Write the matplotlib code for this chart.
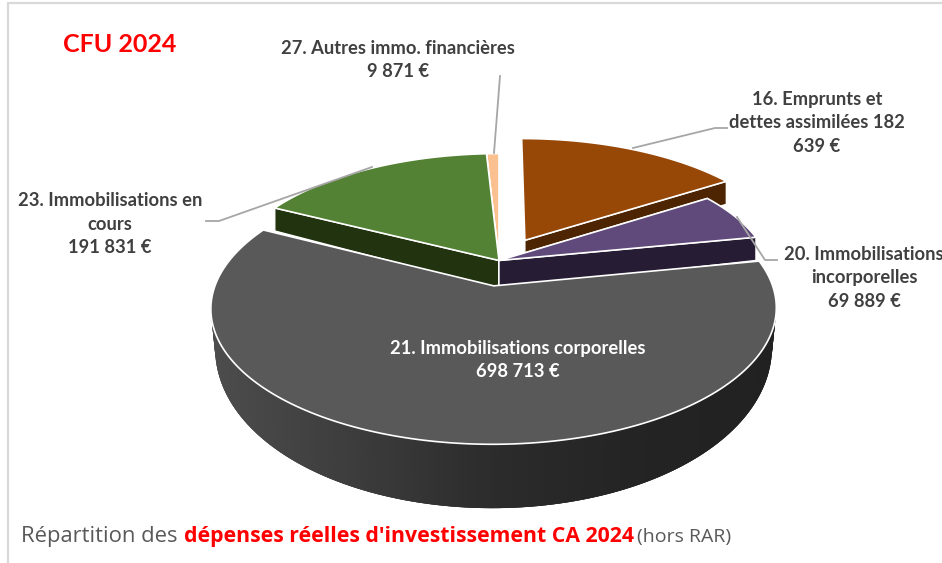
import numpy as np
import matplotlib
matplotlib.use("Agg")
import matplotlib.pyplot as plt
from matplotlib.patches import Polygon

# ── Données ───────────────────────────────────────────────────────────────────
POSTES = ["16. Emprunts et", "20. Immobilisations", "21. Immobilisations corporelles",
          "23. Immobilisations en", "27. Autres immo. financières"]
MONTANTS = [182639, 69889, 698713, 191831, 9871]

COULEURS_DESSUS = ["#974706", "#604a7b", "#595959", "#548235", "#fac090"]
COULEURS_COTE = ["#4d2503", "#261c33", "#333333", "#21330f", "#c09060"]
EXPLOSION = [0.19, 0.0, 0.20, 0.0, 0.0]
DECALAGE_X = [2, 0, 2.5, 0, 0]

# ── Géométrie de la perspective (pixels de l'image) ───────────────────────────
CX, CY = 499, 260
A, B, K = 270, 124, 0.16

plt.rcParams["font.family"] = ["Lato", "DejaVu Sans"]

fig = plt.figure(figsize=(9.42, 5.63), dpi=100)
ax = fig.add_axes([0, 0, 1, 1])
ax.set_xlim(0, 942)
ax.set_ylim(563, 0)
ax.axis("off")


def projette(u, v, dx=0):
    s = 1 / (1 - K * v)
    return CX + dx + A * u * s, CY + 0.5 + B * v * s


def epaisseur(v):
    return 23 + 41 * np.maximum(0, (v + 0.2) / 1.4)


def montant_txt(m):
    return f"{m:,}".replace(",", " ") + " €"


def part(deb, fin, expl):
    mid = np.radians((deb + fin) / 2)
    ou, ov = expl * np.sin(mid), -expl * np.cos(mid)
    th = np.radians(np.linspace(deb, fin, 160))
    return ou, ov, ou + np.sin(th), ov - np.cos(th)


def mur_radial(ou, ov, u, v, couleur, dx):
    x0, y0 = projette(ou, ov, dx)
    x1, y1 = projette(u, v, dx)
    pts = [(x0, y0), (x1, y1), (x1, y1 + epaisseur(v)), (x0, y0 + epaisseur(ov))]
    ax.add_patch(Polygon(pts, facecolor=couleur, edgecolor="white", linewidth=1))


# ── Parts du camembert ────────────────────────────────────────────────────────
parts = np.array(MONTANTS) / sum(MONTANTS) * 360
bornes = np.concatenate([[0], np.cumsum(parts)])

for i in [0, 4, 3, 1, 2]:
    deb, fin = bornes[i], bornes[i + 1]
    dx = DECALAGE_X[i]
    ou, ov, u, v = part(deb, fin, EXPLOSION[i])
    x, y = projette(u, v, dx)

    if i == 2:
        # flanc avant avec dégradé horizontal, tranches qui se recouvrent
        milieu = (x.min() + x.max()) / 2
        xb = milieu + (x - milieu) * 0.985
        yb = y + epaisseur(v)
        for j in range(len(x) - 3):
            gris = np.interp(x[j], [211, 350, 500, 640, 776], [0.30, 0.24, 0.17, 0.14, 0.13])
            pts = [(x[j], y[j]), (x[j + 3], y[j + 3]), (xb[j + 3], yb[j + 3]), (xb[j], yb[j])]
            ax.add_patch(Polygon(pts, facecolor=str(gris), edgecolor="none"))
    else:
        # le mur visible de face passe en dernier
        ordre = [0, -1] if i < 3 else [-1, 0]
        for k in ordre:
            mur_radial(ou, ov, u[k], v[k], COULEURS_COTE[i], dx)

    x0, y0 = projette(ou, ov, dx)
    ax.add_patch(Polygon(np.column_stack([np.r_[x0, x], np.r_[y0, y]]),
                         facecolor=COULEURS_DESSUS[i], edgecolor="white", linewidth=1.2))

# ── Lignes de rappel ──────────────────────────────────────────────────────────
gris_ligne = "#a6a6a6"
ax.plot([500, 494], [76, 153], color=gris_ligne, lw=1.3)
ax.plot([727, 715, 633], [128, 128, 148], color=gris_ligne, lw=1.3)
ax.plot([777, 765, 737], [260, 260, 217], color=gris_ligne, lw=1.3)
ax.plot([206, 219, 372], [221, 221, 167], color=gris_ligne, lw=1.3)

# ── Étiquettes ────────────────────────────────────────────────────────────────
coul = "#404040"
fs = 13.2


def etiquette(x, y, txt, couleur=coul):
    ax.text(x, y, txt, ha="center", va="center", fontsize=fs, fontweight="bold",
            color=couleur, linespacing=1.45)


etiquette(398, 60, f"{POSTES[4]}\n{montant_txt(MONTANTS[4])}")
etiquette(817, 123, "16. Emprunts et\ndettes assimilées 182\n639 €")
etiquette(864, 278, f"{POSTES[1]}\nincorporelles\n{montant_txt(MONTANTS[1])}")
etiquette(110, 224, f"{POSTES[3]}\ncours\n{montant_txt(MONTANTS[3])}")
etiquette(518, 360, f"{POSTES[2]}\n{montant_txt(MONTANTS[2])}", couleur="white")

ax.text(120, 45, "CFU 2024", ha="center", va="center", color="#ff0000",
        fontsize=18, fontweight="bold")

# ── Légende du bas ────────────────────────────────────────────────────────────
ax.text(21, 542, "Répartition des", color="#595959", fontsize=15.8, va="baseline", family="Open Sans")
ax.text(184, 542, "dépenses réelles d'investissement CA 2024", color="#ff0000", fontsize=15.3,
        fontweight="bold", va="baseline", family="Open Sans")
ax.text(637, 542, "(hors RAR)", color="#595959", fontsize=14, va="baseline", family="Open Sans")

# ── Cadre ─────────────────────────────────────────────────────────────────────
ax.plot([8, 8, 942], [563, 3, 3], color="#d9d9d9", lw=1.6)

fig.savefig("out.png", dpi=100)
